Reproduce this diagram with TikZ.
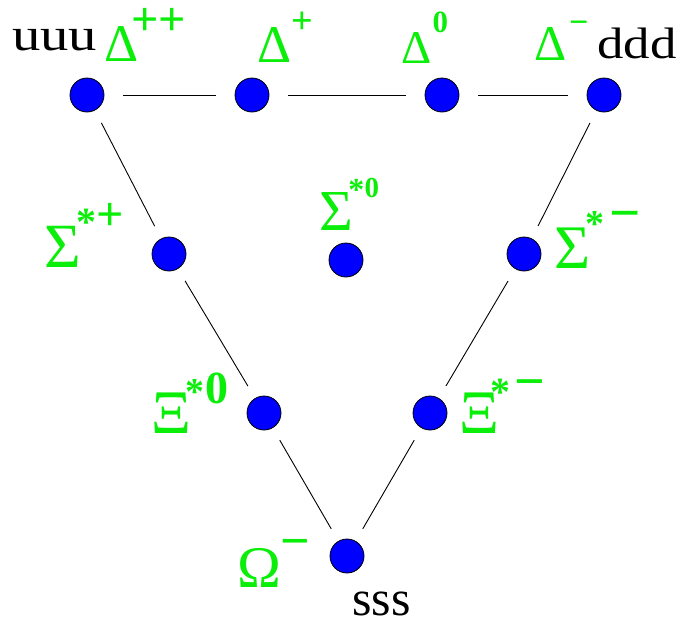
\documentclass[tikz,border=0pt]{standalone}
\usepackage{fontspec}
\setmainfont{Liberation Serif}
\definecolor{dotblue}{RGB}{0,0,255}
\definecolor{lgreen}{RGB}{10,238,10}
\newcommand\fsz[1]{\fontsize{#1}{#1}\selectfont}
% \putat{dx}{raise}{size}{text}: bold superscript placed relative to the label start
\newcommand\putat[4]{\makebox[0pt][l]{\hspace*{#1pt}\raisebox{#2pt}{\bfseries\fsz{#3}#4}}}
\tikzset{
  dot/.style={circle, fill=dotblue, draw=black, line width=0.8pt, minimum size=34pt, inner sep=0pt},
  hlink/.style={draw=black, line width=0.9pt, shorten <=19pt, shorten >=19pt},
  dlink/.style={draw=black, line width=0.9pt, shorten <=14pt, shorten >=14pt},
  greek/.style={text=lgreen, inner sep=0pt, anchor=base west},
  quark/.style={text=black, inner sep=0pt, anchor=base west, text depth=0pt, font=\fsz{#1}},
}
\begin{document}
\begin{tikzpicture}[x=1pt,y=-1pt]
\path[use as bounding box] (0,0) rectangle (693,619);
% dots
\node[dot] (d1) at (87,95) {};
\node[dot] (d2) at (252,95) {};
\node[dot] (d3) at (442,95) {};
\node[dot] (d4) at (604,95) {};
\node[dot] (s1) at (169,254) {};
\node[dot] (s0) at (346,260) {};
\node[dot] (s2) at (524,254) {};
\node[dot] (x1) at (264,413) {};
\node[dot] (x2) at (430,413) {};
\node[dot] (om) at (347,556) {};
% links
\path[hlink] (d1) -- (d2);
\path[hlink] (d2) -- (d3);
\path[hlink] (d3) -- (d4);
\path[dlink] (d1) -- (s1);
\path[dlink] (s1) -- (x1);
\path[dlink] (x1) -- (om);
\path[dlink] (d4) -- (s2);
\path[dlink] (s2) -- (x2);
\path[dlink] (x2) -- (om);
% quark labels
\node[quark=46] (uuu) at (12,50) {\scalebox{1.23}[1]{uuu}};
\node[quark=44] (ddd) at (597,58) {\scalebox{1.2}[1]{ddd}};
\node[quark=50] (sss) at (352,615) {sss};
% Delta labels
\node[greek] (ld1) at (104,61) {\putat{27.4}{26}{48}{++}\fsz{53}Δ};
\node[greek] (ld2) at (257,62) {\putat{34.7}{29}{38}{+}\fsz{53}Δ};
\node[greek] (ld3) at (401,63) {\putat{31.3}{31}{31}{0}\fsz{47}Δ};
\node[greek] (ld4) at (534,60) {\putat{34.9}{26.4}{34}{−}\fsz{50}Δ};
% Sigma labels
\node[greek] (ls1) at (44,267) {\putat{31.8}{31.8}{40}{*}\putat{52.4}{37}{48}{+}\fsz{63}Σ};
\node[greek] (ls0) at (319,230) {\putat{29.2}{29.8}{32}{*}\putat{45.3}{33}{29}{0}\fsz{58}Σ};
\node[greek] (ls2) at (554,268) {\putat{30.9}{31.3}{38}{*}\putat{55.5}{36.1}{55}{−}\fsz{62}Σ};
% Xi labels
\node[greek] (lx1) at (151,433) {\putat{33.9}{28.3}{38}{*}\putat{53.9}{30}{46}{0}\fsz{62}Ξ};
\node[greek] (lx2) at (459,433) {\putat{30.8}{27.8}{40}{*}\putat{55.5}{33.3}{54}{−}\fsz{62}Ξ};
% Omega label
\node[greek] (lom) at (237,587) {\putat{43.3}{28.8}{52}{−}\fsz{59}Ω};
\end{tikzpicture}
\end{document}
